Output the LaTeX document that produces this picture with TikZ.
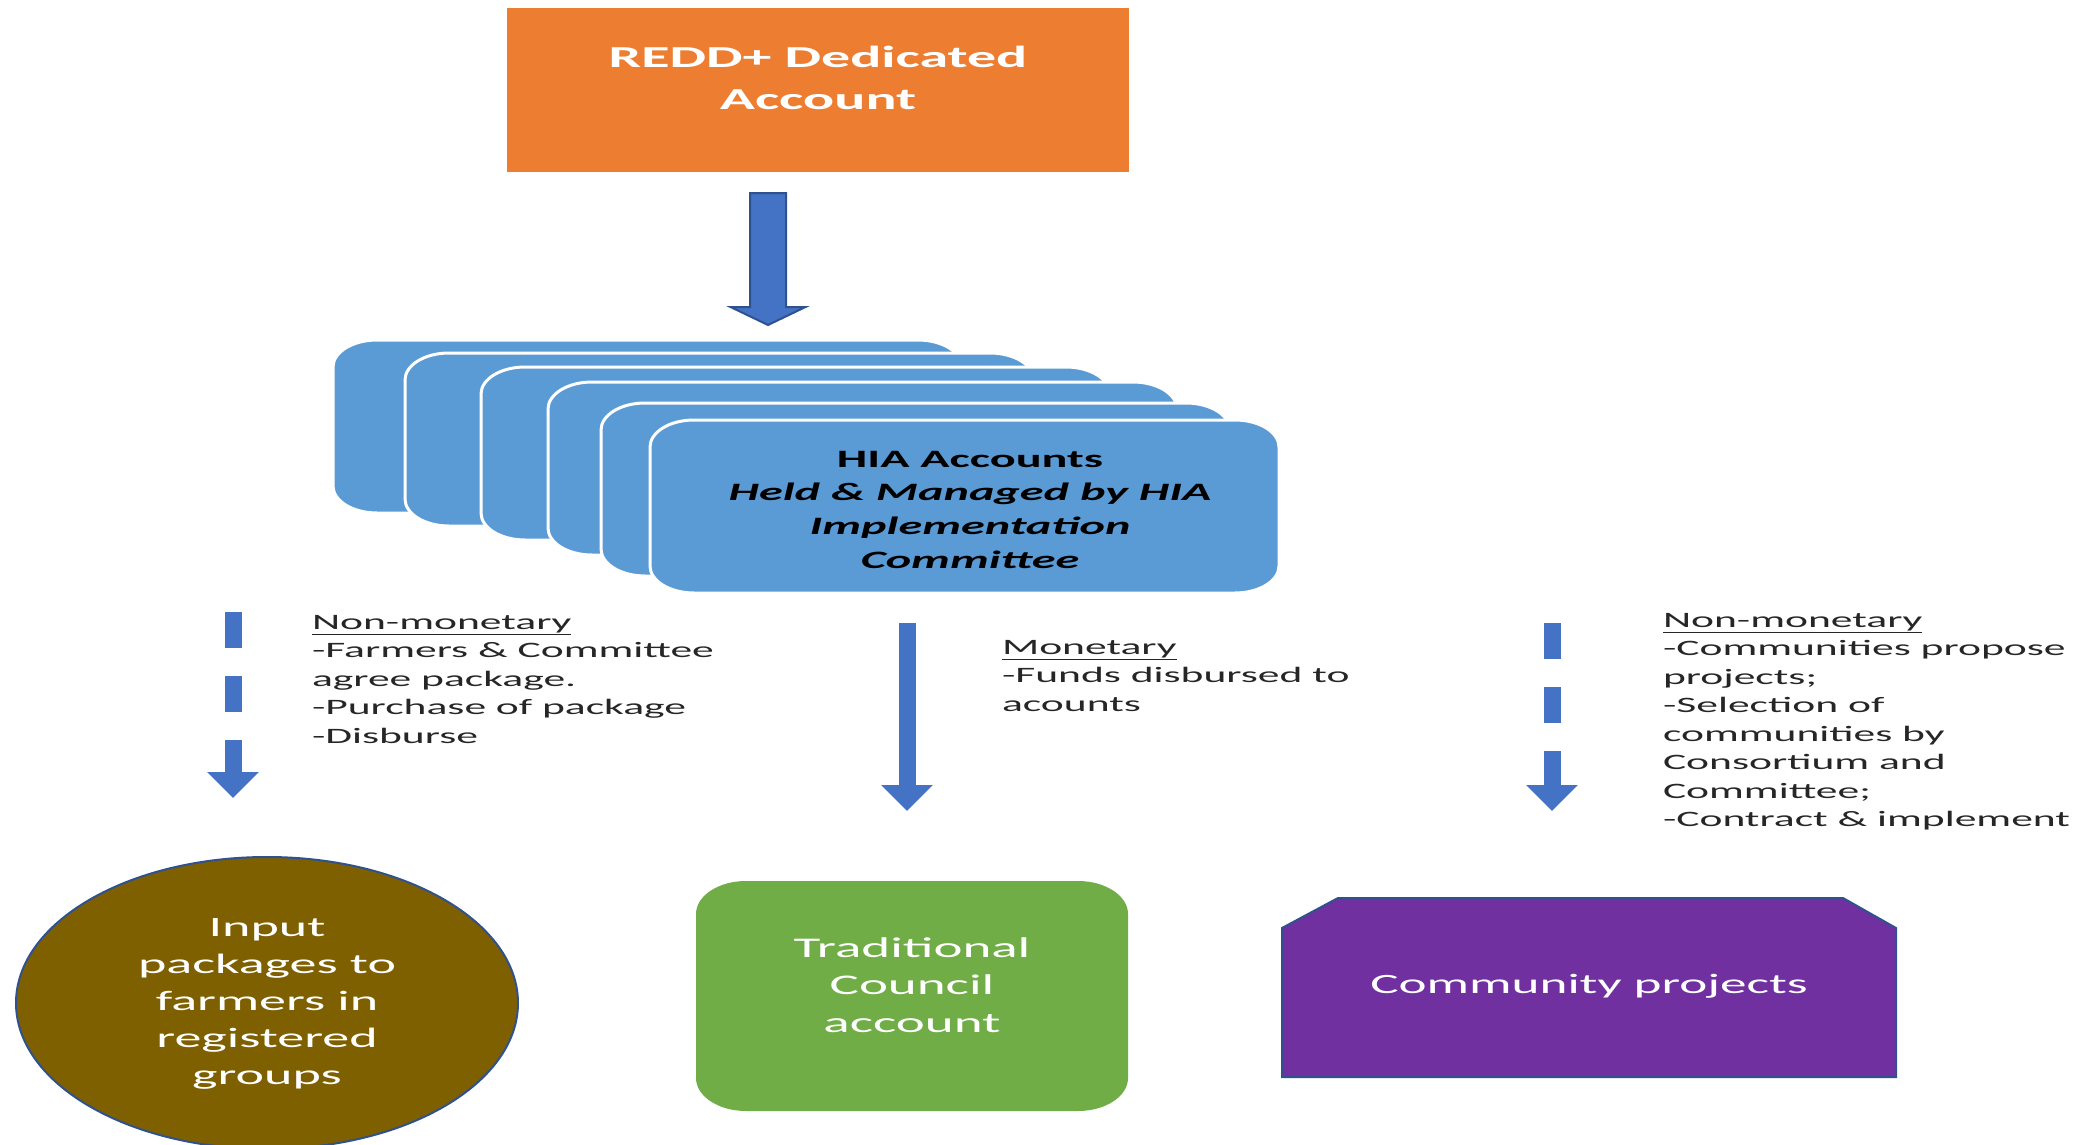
\documentclass[tikz,border=0pt]{standalone}
\usepackage{fontspec}
\setmainfont{Carlito}
\usepackage{graphicx}
\usetikzlibrary{calc,arrows.meta,shapes.geometric}
\definecolor{orng}{HTML}{ED7D31}
\definecolor{arrblue}{HTML}{4472C4}
\definecolor{arrdark}{HTML}{2F528F}
\definecolor{cardblue}{HTML}{5B9BD5}
\definecolor{brownfill}{HTML}{7F6000}
\definecolor{grn}{HTML}{70AD47}
\definecolor{purp}{HTML}{7030A0}
\definecolor{txt}{HTML}{262626}
\newcommand\wide[2][1.9]{\scalebox{#1}[1]{#2}}
% #1 x, #2 y, #3 w, #4 h, #5 rx, #6 ry, #7 style
\newcommand\ellrect[7]{%
  \path[#7] (#1,#2+#6) .. controls (#1,#2+0.4477*#6) and (#1+0.4477*#5,#2) .. (#1+#5,#2)
    -- (#1+#3-#5,#2) .. controls (#1+#3-0.4477*#5,#2) and (#1+#3,#2+0.4477*#6) .. (#1+#3,#2+#6)
    -- (#1+#3,#2+#4-#6) .. controls (#1+#3,#2+#4-0.4477*#6) and (#1+#3-0.4477*#5,#2+#4) .. (#1+#3-#5,#2+#4)
    -- (#1+#5,#2+#4) .. controls (#1+0.4477*#5,#2+#4) and (#1,#2+#4-0.4477*#6) .. (#1,#2+#4-#6) -- cycle;}
\tikzset{
  lbl/.style={inner sep=0pt, outer sep=0pt},
  bodytext/.style={lbl, anchor=base west, text=txt},
  thinarrow/.style={draw=arrblue, line width=17pt, -{Triangle[width=50pt,length=26pt]}},
  dasharrow/.style={thinarrow, dash pattern=on 36pt off 28pt},
  cardstyle/.style={fill=cardblue, draw=white, line width=3pt},
}
\begin{document}
\begin{tikzpicture}[x=1pt, y=-1pt]
\useasboundingbox (0,0) rectangle (2089,1145);

% REDD+ box
\fill[orng] (507,8) rectangle (1129,172);
\node[lbl, anchor=base, text=white] (redd) at (818,68)
  {\fontsize{30.5}{42}\selectfont\bfseries\wide{\begin{tabular}[t]{@{}c@{}}REDD+ Dedicated\\Account\end{tabular}}};

% big arrow
\coordinate (bigA) at (768,193);
\coordinate (bigB) at (768,325);
\draw[fill=arrblue, draw=arrdark, line width=2pt, line join=miter]
  ($(bigA)+(-18,0)$) -- ($(bigA)+(18,0)$) -- ($(bigB)+(18,-18)$) -- ($(bigB)+(37.5,-18)$)
  -- (bigB) -- ($(bigB)+(-37.5,-18)$) -- ($(bigB)+(-18,-18)$) -- cycle;

% HIA cards
\foreach \cx/\cy in {333/340, 405/353, 481/367, 548/382, 601/403, 650/420}
  {\ellrect{\cx}{\cy}{629}{173}{44}{27}{cardstyle}}
\node[lbl, anchor=base, text=black] (hia) at (970,467)
  {\fontsize{25}{33.7}\selectfont\bfseries\wide[1.93]{\begin{tabular}[t]{@{}c@{}}HIA Accounts\\
   \itshape Held \& Managed by HIA\\ \itshape Implementation\\ \itshape Committee\end{tabular}}};

% arrows
\coordinate (l1) at (233,612); \coordinate (l2) at (233,798);
\coordinate (m1) at (907,623); \coordinate (m2) at (907,811);
\coordinate (r1) at (1552,623); \coordinate (r2) at (1552,811);
\draw[dasharrow] (l1) -- (l2);
\draw[thinarrow] (m1) -- (m2);
\draw[dasharrow] (r1) -- (r2);

% texts
\node[bodytext] (nmleft) at (312,629)
  {\fontsize{22}{28.5}\selectfont\wide[1.98]{\begin{tabular}[t]{@{}l@{}}\underline{Non-monetary}\\
   -Farmers \& Committee\\ agree package.\\ -Purchase of package\\ -Disburse\end{tabular}}};
\node[bodytext] (mon) at (1002,654)
  {\fontsize{22}{28.5}\selectfont\wide[1.98]{\begin{tabular}[t]{@{}l@{}}\underline{Monetary}\\
   -Funds disbursed to\\ acounts\end{tabular}}};
\node[bodytext] (nmright) at (1663,627)
  {\fontsize{22}{28.5}\selectfont\wide[1.98]{\begin{tabular}[t]{@{}l@{}}\underline{Non-monetary}\\
   -Communities propose\\ projects;\\ -Selection of\\ communities by\\ Consortium and\\
   Committee;\\ -Contract \& implement\end{tabular}}};

% bottom shapes
\node[ellipse, fill=brownfill, draw=arrdark, line width=2pt, minimum width=502pt,
  minimum height=292pt, inner sep=0pt, text=white] (inp) at (267,1003)
  {\fontsize{28}{37}\selectfont\wide[1.93]{\begin{tabular}{@{}c@{}}Input\\ packages to\\ farmers in\\
   registered\\ groups\end{tabular}}};

\ellrect{696}{881}{432}{230}{50}{33}{fill=grn}
\node[lbl, anchor=base, text=white] (trad) at (912,957)
  {\fontsize{28.5}{37.5}\selectfont\wide[1.93]{\begin{tabular}[t]{@{}c@{}}Traditional\\ Council\\ account\end{tabular}}};

\draw[fill=purp, draw=arrdark, line width=2pt]
  (1282,928) -- (1338,898) -- (1843,898) -- (1896,928) -- (1896,1077) -- (1282,1077) -- cycle;
\node[lbl, anchor=base, text=white] (comm) at (1589,993)
  {\fontsize{28}{37}\selectfont\wide{Community projects}};
\end{tikzpicture}
\end{document}
